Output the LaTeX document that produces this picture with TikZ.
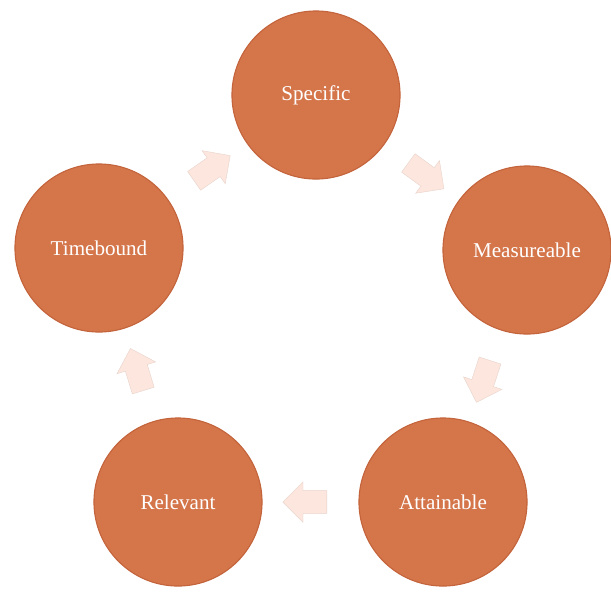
\documentclass[tikz,border=0pt]{standalone}
\usepackage{fontspec}
\setmainfont{Liberation Serif}
\usetikzlibrary{shapes.arrows,calc}
\definecolor{discfill}{RGB}{212,117,74}
\definecolor{discedge}{RGB}{196,100,60}
\definecolor{arrowfill}{RGB}{252,230,221}
\begin{document}
\begin{tikzpicture}[x=0.025cm,y=-0.025cm,
    disc/.style={circle,fill=discfill,draw=discedge,line width=0.8pt,minimum size=4.2cm,inner sep=0pt,text=white,font=\fontsize{15}{18}\selectfont},
    cyclearrow/.style={single arrow,fill=arrowfill,draw=arrowfill!92!black,line width=0.3pt,inner sep=0.28cm,single arrow head extend=0.22cm,minimum height=1.1cm}]
            \useasboundingbox (0,0) rectangle (611,593);
            \node[disc] (specific) at (316,95) {Specific};
            \node[disc] (measure) at (527,250) {Measureable};
            \node[disc] (attain) at (443,502) {Attainable};
            \node[disc] (relevant) at (178,502) {Relevant};
            \node[disc] (timebound) at (99,248) {Timebound};
            \node[cyclearrow,rotate=35] (a1) at ($(timebound)!0.5!(specific)$) {};
            \node[cyclearrow,rotate=-36] (a2) at ($(specific)!0.5!(measure)$) {};
            \node[cyclearrow,rotate=-108] (a3) at ($(measure)!0.5!(attain)$) {};
            \node[cyclearrow,rotate=180] (a4) at ($(attain)!0.5!(relevant)$) {};
            \node[cyclearrow,rotate=107] (a5) at ($(relevant)!0.5!(timebound)$) {};
\end{tikzpicture}
\end{document}
